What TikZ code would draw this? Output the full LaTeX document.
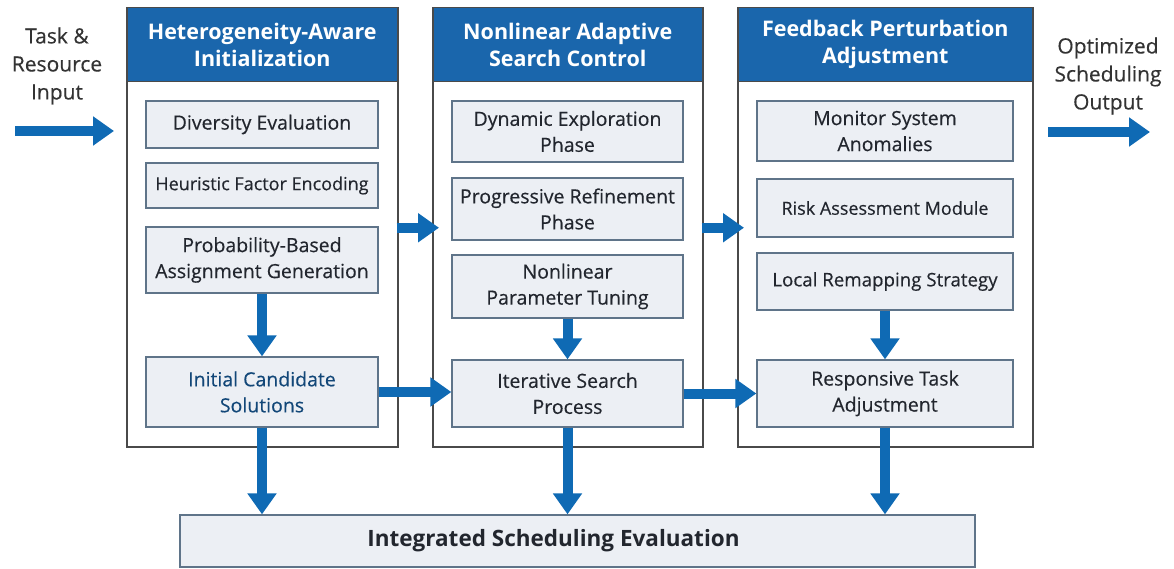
\documentclass[tikz,border=0pt]{standalone}
\usepackage{fontspec}
\setmainfont{Open Sans}
\newfontfamily\stepfont{Open Sans}[FakeBold=0.35]
\usetikzlibrary{arrows.meta}
\definecolor{hdrblue}{HTML}{1A66AC}
\definecolor{arrblue}{HTML}{0F6AB4}
\definecolor{boxfill}{HTML}{ECEFF4}
\definecolor{boxline}{HTML}{5F7489}
\definecolor{panelline}{HTML}{4A4A4A}
\definecolor{txt}{HTML}{22262E}
\definecolor{sidetxt}{HTML}{333333}
\tikzset{
  panel/.style={draw=panelline, line width=1.5pt, fill=white, anchor=north west,
    minimum width=#1, minimum height=438, inner sep=0pt},
  header/.style={draw=panelline, line width=1.5pt, fill=hdrblue, anchor=north west,
    minimum width=#1, minimum height=74, inner sep=0pt, text=white, align=center,
    font=\bfseries\fontsize{21.5}{27}\selectfont},
  inbox/.style={draw=boxline, line width=1.3pt, fill=boxfill, text=txt, align=center,
    inner sep=0pt, font=\stepfont\fontsize{19.5}{26}\selectfont},
  smalltext/.style={font=\stepfont\fontsize{18}{26}\selectfont},
  sidelabel/.style={text=sidetxt, align=center, font=\stepfont\fontsize{21}{28}\selectfont},
  bigarrow/.style={draw=arrblue, line width=10pt,
    -{Triangle[length=21pt, width=28pt]}},
}
\begin{document}
\begin{tikzpicture}[x=1pt, y=-1pt]
\useasboundingbox (0,0) rectangle (1174,569);
\fill[white] (0,0) rectangle (1174,569);

% three stage panels with their title bars
\node[panel=271] (p1) at (126,8) {};
\node[panel=270] (p2) at (432,8) {};
\node[panel=295] (p3) at (737,8) {};
\node[header=271] (h1) at (126,7) {Heterogeneity-Aware\\Initialization};
\node[header=270] (h2) at (432,7) {Nonlinear Adaptive\\Search Control};
\node[header=295] (h3) at (737,7) {Feedback Perturbation\\Adjustment};

% stage 1 steps
\node[inbox, minimum width=232, minimum height=47] (div) at (262,124.5) {Diversity Evaluation};
\node[inbox, smalltext, minimum width=232, minimum height=45] (heu) at (262,185.5) {Heuristic Factor Encoding};
\node[inbox, minimum width=232, minimum height=66] (prob) at (262,260) {Probability-Based\\Assignment Generation};
\node[inbox, minimum width=232, minimum height=70, text=hdrblue!70!black] (init) at (262,392) {Initial Candidate\\Solutions};

% stage 2 steps
\node[inbox, minimum width=231, minimum height=61] (dyn) at (567.5,131.5) {Dynamic Exploration\\Phase};
\node[inbox, minimum width=231, minimum height=62] (prog) at (567.5,209) {Progressive Refinement\\Phase};
\node[inbox, minimum width=231, minimum height=63] (nlin) at (567.5,286.5) {Nonlinear\\Parameter Tuning};
\node[inbox, minimum width=231, minimum height=67] (iter) at (567.5,393.5) {Iterative Search\\Process};

% stage 3 steps
\node[inbox, minimum width=256, minimum height=60] (mon) at (885,131) {Monitor System\\Anomalies};
\node[inbox, smalltext, minimum width=256, minimum height=58] (risk) at (885,208) {Risk Assessment Module};
\node[inbox, minimum width=256, minimum height=57, font=\stepfont\fontsize{18.7}{26}\selectfont] (loc) at (885,281.5) {Local Remapping Strategy};
\node[inbox, minimum width=256, minimum height=67] (resp) at (885,393.5) {Responsive Task\\Adjustment};

% final evaluation, title set a little left of centre
\node[inbox, minimum width=795, minimum height=52, font=\bfseries\fontsize{22.5}{26}\selectfont] (eval) at (577.5,541) {Integrated Scheduling Evaluation\hspace*{48pt}};

% input and output labels
\node[sidelabel] (inlab) at (57,66) {Task \&\\Resource\\Input};
\node[sidelabel] (outlab) at (1108,76) {Optimized\\Scheduling\\Output};
\coordinate (inA) at (15,131);
\coordinate (inB) at (114,131);
\coordinate (outA) at (1048,132);
\coordinate (outB) at (1150,132);

% flow arrows
\draw[bigarrow] (inA) -- (inB);
\draw[bigarrow] (outA) -- (outB);
\draw[bigarrow, shorten <=-2pt, shorten >=-7pt] (p1.east) -- (p2.west);
\draw[bigarrow, shorten <=-2pt, shorten >=-7pt] (p2.east) -- (p3.west);
\draw[bigarrow] (prob.south) -- (init.north);
\draw[bigarrow] (nlin.south) -- (iter.north);
\draw[bigarrow] (loc.south) -- (resp.north);
\draw[bigarrow] (init.east) -- (iter.west |- init.east);
\draw[bigarrow] (iter.east) -- (resp.west |- iter.east);
\draw[bigarrow] (init.south) -- (init.south |- eval.north);
\draw[bigarrow] (iter.south) -- (iter.south |- eval.north);
\draw[bigarrow] (resp.south) -- (resp.south |- eval.north);
\end{tikzpicture}
\end{document}
